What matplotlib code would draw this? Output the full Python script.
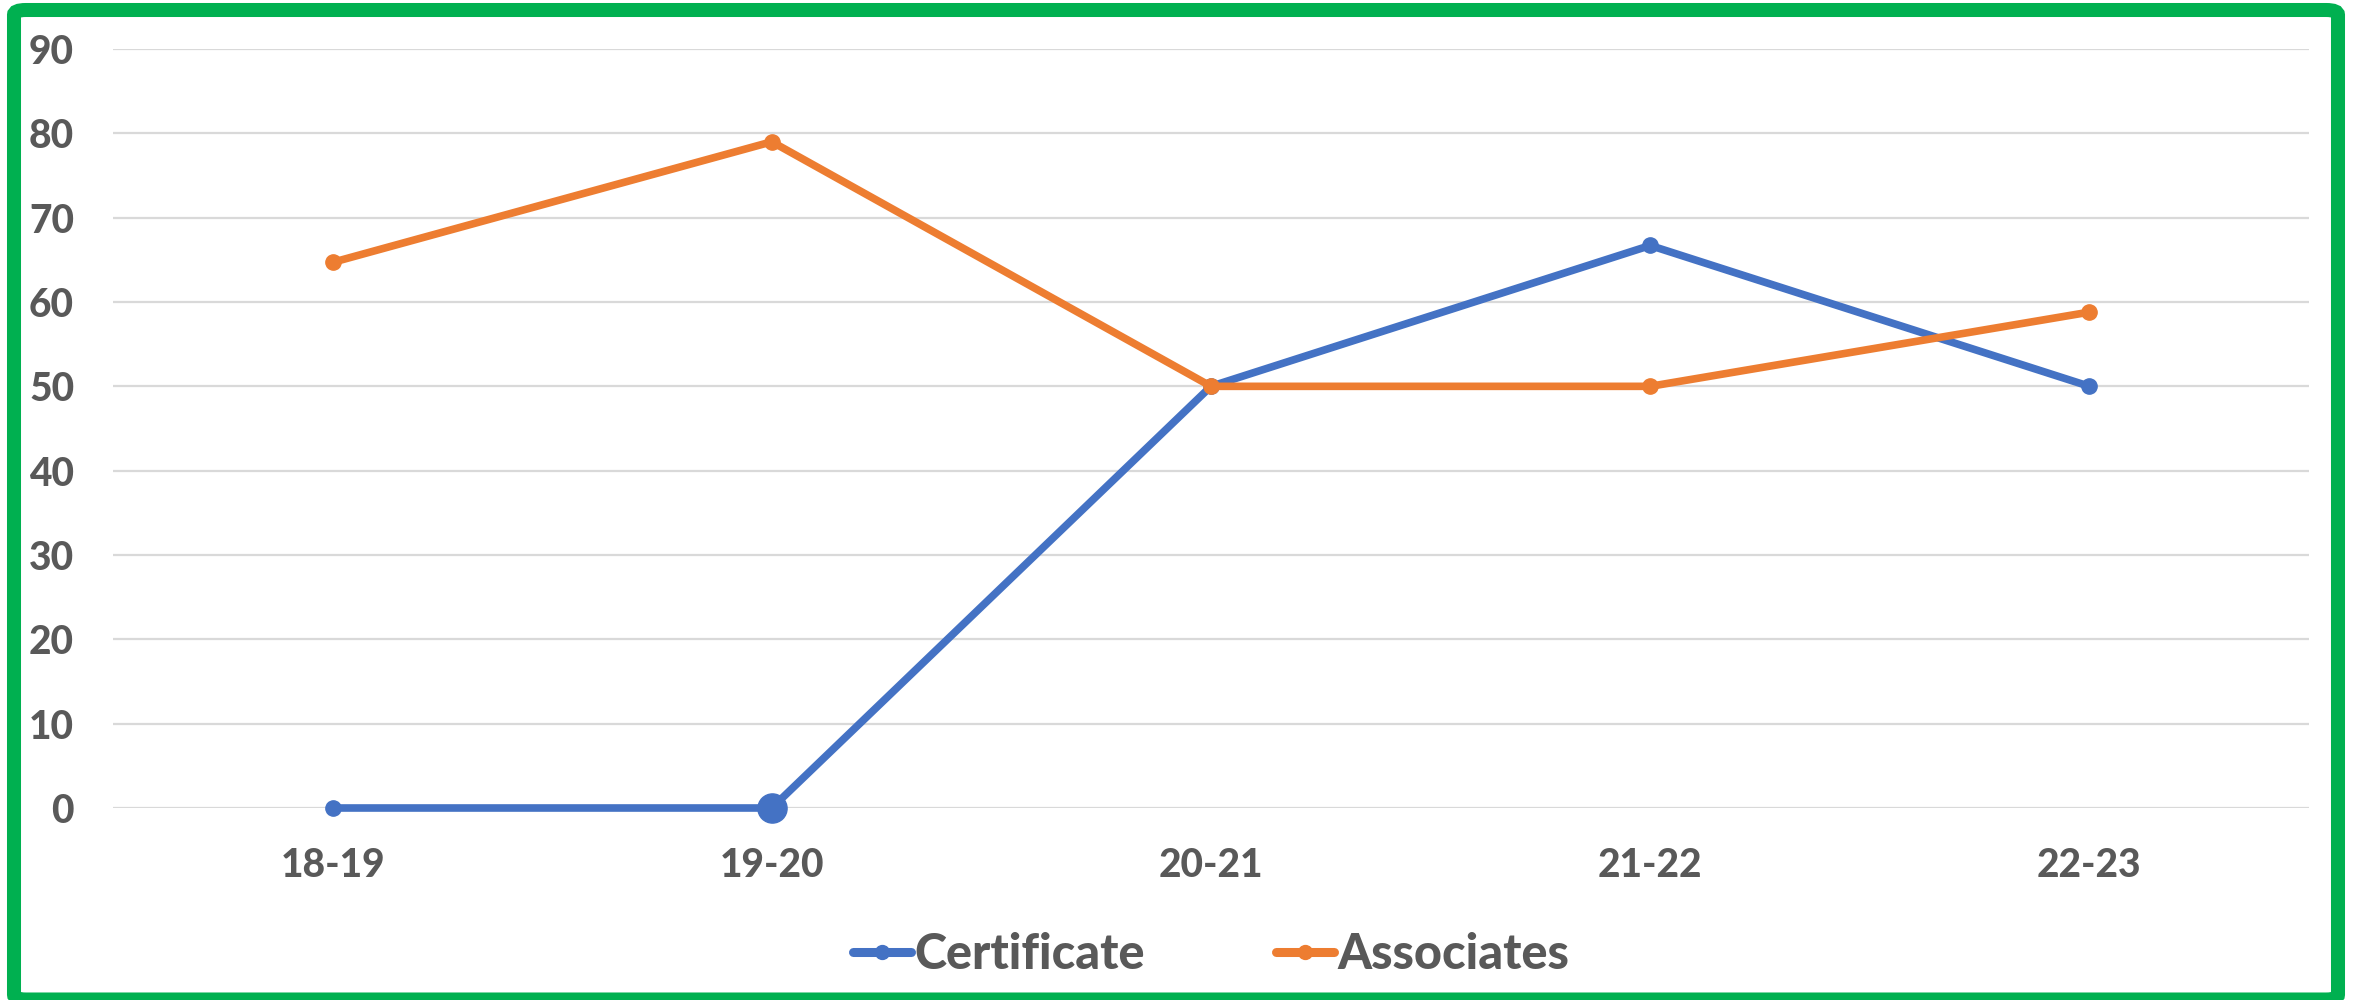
import matplotlib.pyplot as plt
from matplotlib.patches import FancyBboxPatch

# data
years = ["18-19", "19-20", "20-21", "21-22", "22-23"]
certificate = [0, 0, 50, 66.7, 50]
associates = [64.7, 79, 50, 50, 58.8]
y_ticks = [0, 10, 20, 30, 40, 50, 60, 70, 80, 90]

BLUE = "#4472C4"
ORANGE = "#ED7D31"
TEXT = "#595959"
GRID = "#D9D9D9"
GREEN = "#00B050"

plt.rcParams['font.family'] = ['Lato', 'DejaVu Sans']

W, H, DPI = 2359, 1000, 100
fig = plt.figure(figsize=(W / DPI, H / DPI), dpi=DPI)
ax = fig.add_axes([113 / W, 1 - 808 / H, (2309 - 113) / W, (808 - 49) / H])

x = list(range(len(years)))
ax.plot(x, certificate, color=BLUE, lw=5.5, marker='o', ms=11,
        solid_capstyle='round', label="Certificate", zorder=3, clip_on=False)
# the highlighted point at 19-20
ax.plot([x[1]], [certificate[1]], 'o', color=BLUE, ms=21, zorder=3, clip_on=False)
ax.plot(x, associates, color=ORANGE, lw=5.5, marker='o', ms=11,
        solid_capstyle='round', label="Associates", zorder=4, clip_on=False)

ax.set_xlim(-0.5, len(years) - 0.5)
ax.set_ylim(0, 90)
ax.set_yticks(y_ticks)
ax.set_xticks(x)
ax.set_xticklabels(years)
ax.grid(axis='y', color=GRID, lw=1.6)
ax.set_axisbelow(True)
for s in ax.spines.values():
    s.set_visible(False)
ax.tick_params(length=0, colors=TEXT, labelsize=28)
ax.tick_params(axis='y', pad=28)
ax.tick_params(axis='x', pad=28)
for lab in ax.get_xticklabels() + ax.get_yticklabels():
    lab.set_fontweight('black')
    lab.set_color(TEXT)

leg = ax.legend(loc='center', bbox_to_anchor=(0.5, -0.193), ncol=2,
                frameon=False, fontsize=35, handlelength=1.2,
                handletextpad=0.06, columnspacing=2.7)
for t in leg.get_texts():
    t.set_color(TEXT)
    t.set_fontweight('black')
for h in leg.legend_handles:
    h.set_linewidth(6.5)
    h.set_markersize(10)

# green rounded frame around the whole chart
border = FancyBboxPatch((14 / W, 0.5 / H), (2338 - 14) / W, (990 - 0.5) / H,
                        boxstyle="round,pad=0,rounding_size=0.005",
                        transform=fig.transFigure, fill=False,
                        edgecolor=GREEN, lw=10.1, clip_on=False)
fig.patches.append(border)

fig.savefig("out.png", dpi=DPI, facecolor='white')
